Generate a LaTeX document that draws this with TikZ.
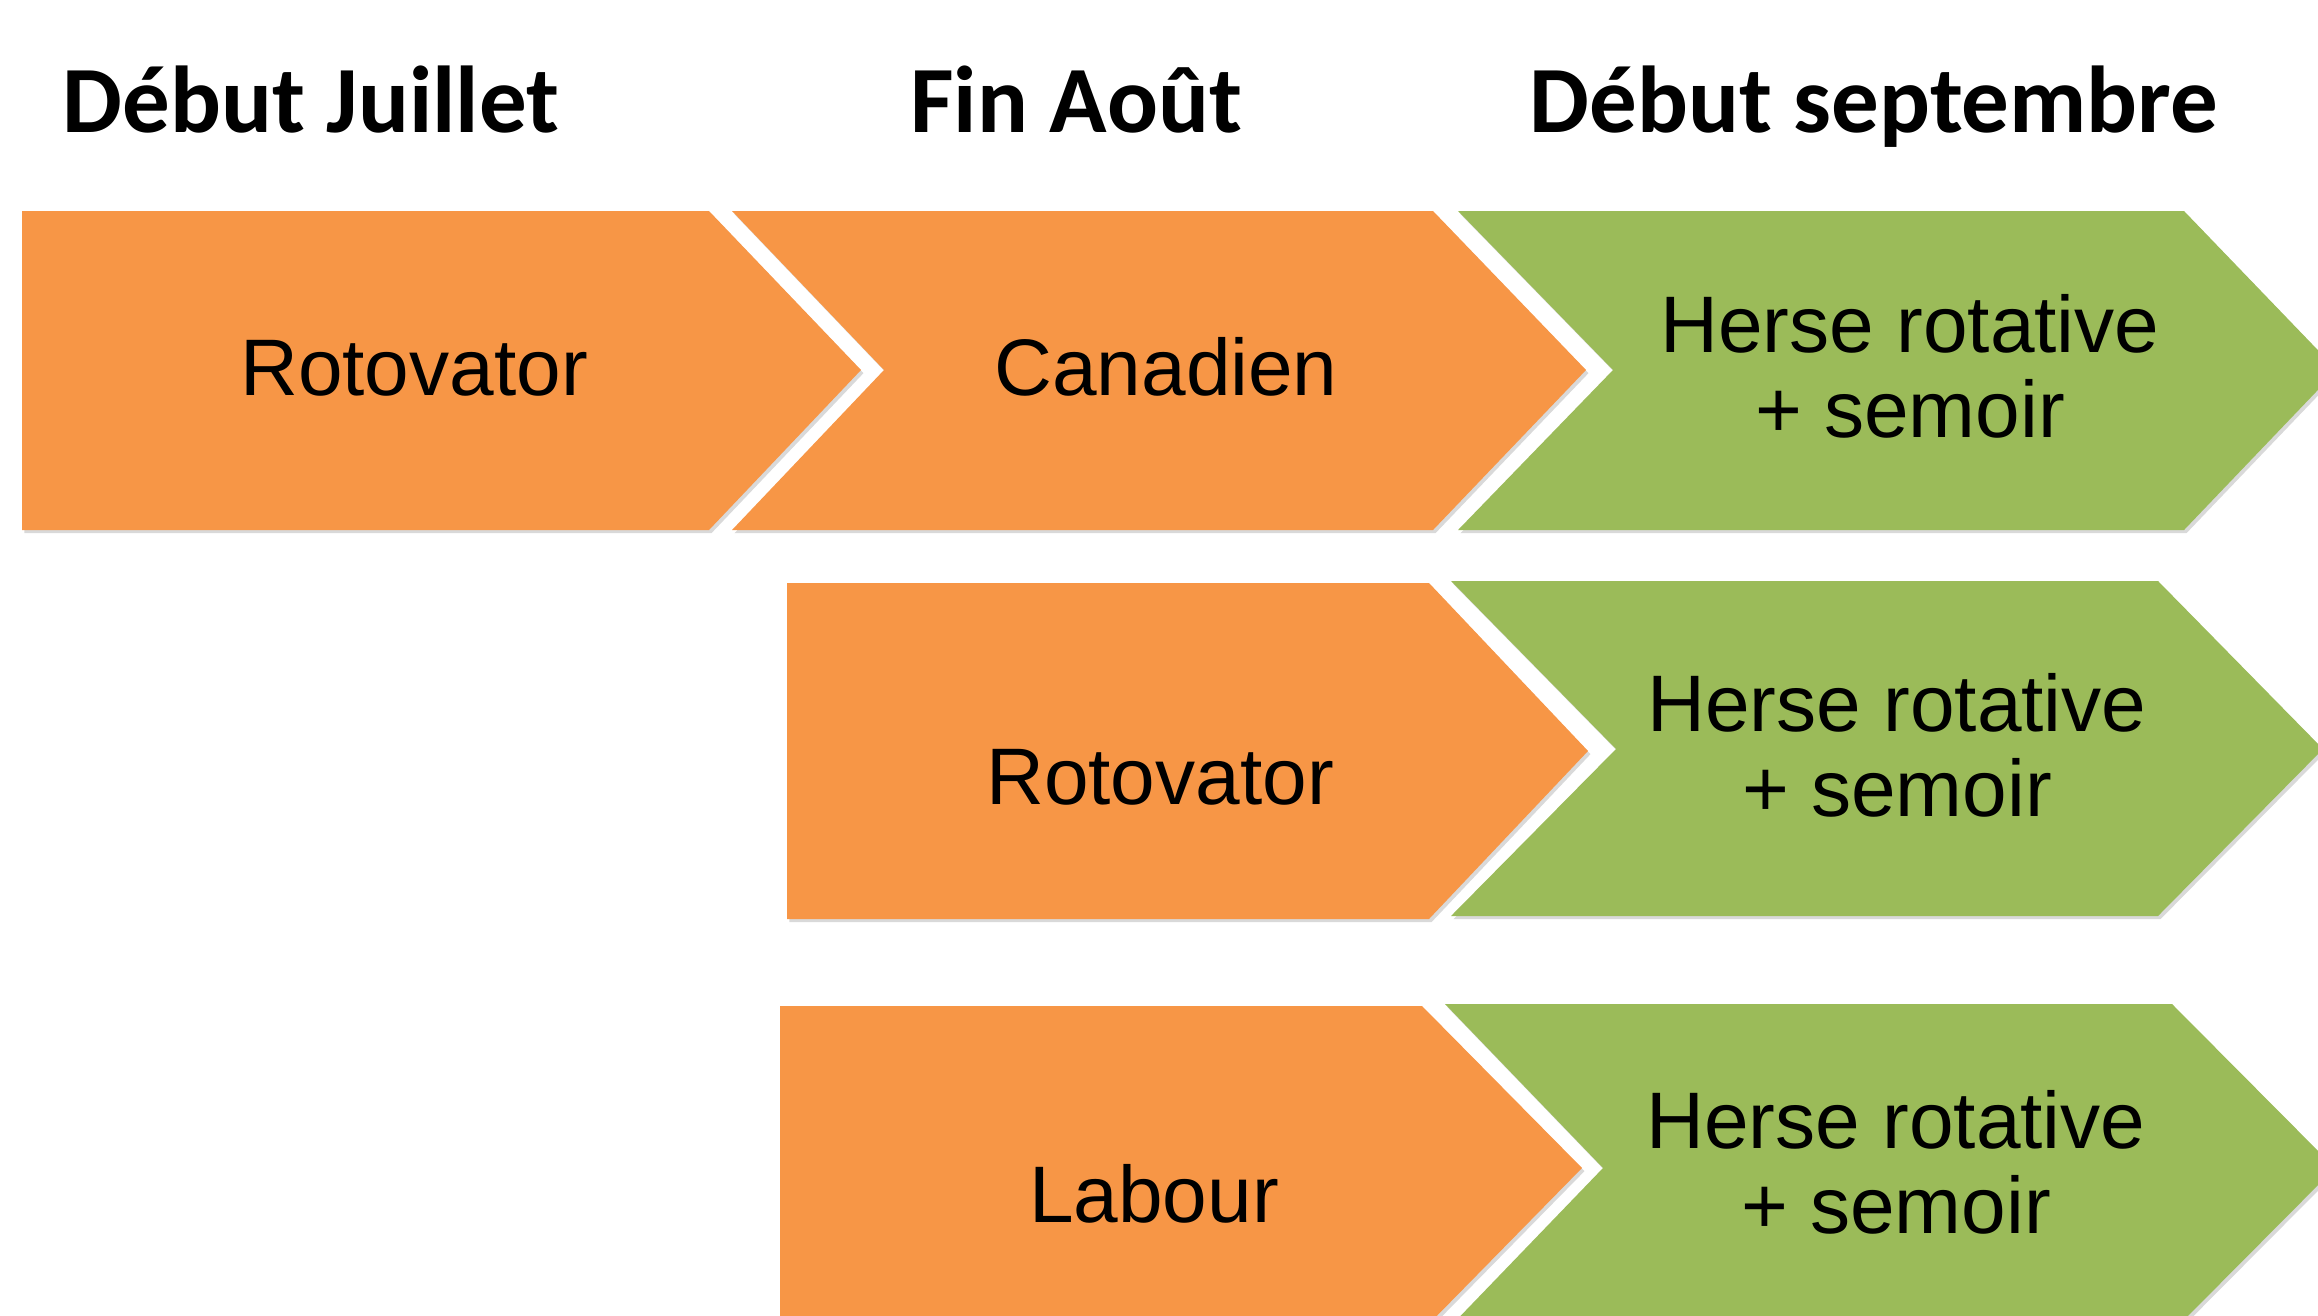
\documentclass[tikz,border=0pt]{standalone}
\usepackage{fontspec}
\setmainfont{Liberation Sans}
\newfontfamily\headfont{Carlito}
\usetikzlibrary{shadows}

\definecolor{travailc}{HTML}{F79646}
\definecolor{semisc}{HTML}{9BBB59}

\begin{document}
\begin{tikzpicture}[x=0.01cm, y=-0.01cm,
  periode/.style={font=\headfont\bfseries\fontsize{27}{32}\selectfont, anchor=base, inner sep=0pt},
  outil/.style={font=\fontsize{22.8}{24.2}\selectfont, align=center, inner sep=0pt},
  ombre/.style={drop shadow={shadow xshift=0.7pt, shadow yshift=-0.9pt, opacity=0.3}},
  travail/.style={fill=travailc, ombre},
  semis/.style={fill=semisc, ombre}]
\useasboundingbox (0,0) rectangle (2318,1315);
\clip (0,0) rectangle (2318,1315);

% Periods
\node[periode] (juillet) at (311,132) {Début Juillet};
\node[periode] (aout) at (1076,132) {Fin Août};
\node[periode] (sept) at (1874,132) {Début septembre};

% Row 1: rotovator, canadien, herse
\path[travail] (22,211) -- (709,211) -- (861,370) -- (709,530) -- (22,530) -- cycle;
\path[travail] (732,211) -- (1433,211) -- (1586,370) -- (1433,530) -- (732,530) -- (884,370) -- cycle;
\path[semis] (1458,211) -- (2184,211) -- (2337,370) -- (2184,530) -- (1458,530) -- (1613,370) -- cycle;
\node[outil, anchor=base] (rotoA) at (414,395) {Rotovator};
\node[outil, anchor=base] (canad) at (1166,395) {Canadien};
\node[outil] (herseA) at (1910,366) {Herse rotative\\+ semoir};

% Row 2: rotovator, herse
\path[travail] (787,583) -- (1429,583) -- (1588,751) -- (1429,919) -- (787,919) -- cycle;
\path[semis] (1451,581) -- (2158,581) -- (2323,749) -- (2158,916) -- (1451,916) -- (1616,749) -- cycle;
\node[outil, anchor=base] (rotoB) at (1160,804) {Rotovator};
\node[outil] (herseB) at (1897,745) {Herse rotative\\+ semoir};

% Row 3: labour, herse
\path[travail] (780,1006) -- (1422,1006) -- (1582,1168) -- (1422,1331) -- (780,1331) -- cycle;
\path[semis] (1445,1004) -- (2172,1004) -- (2335,1168) -- (2172,1332) -- (1445,1332) -- (1603,1168) -- cycle;
\node[outil, anchor=base] (labour) at (1154,1222) {Labour};
\node[outil] (herseC) at (1896,1162) {Herse rotative\\+ semoir};
\end{tikzpicture}
\end{document}
